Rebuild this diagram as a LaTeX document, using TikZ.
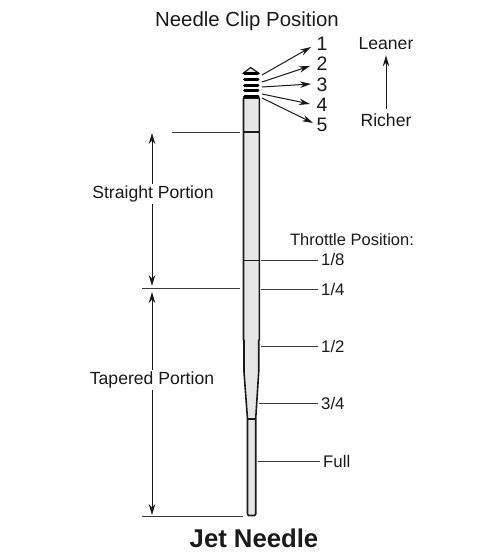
\documentclass[tikz,border=0pt]{standalone}
\usepackage{fontspec}
\setmainfont{Liberation Sans}
\definecolor{mneedle}{HTML}{E6E6E6}
\definecolor{mink}{HTML}{1A1A1A}
\usetikzlibrary{arrows.meta,calc}
\begin{document}
\begin{tikzpicture}[x=1pt,y=-1pt,font=\fontsize{17.6}{20}\selectfont,>={Stealth[length=11pt,width=6.5pt]},
lbl/.style={inner sep=0pt,text=mink,anchor=west},
num/.style={lbl,font=\fontsize{19.5}{22}\selectfont},
mid/.style={inner sep=1.5pt,text=mink},
body/.style={draw=mink,fill=mneedle,line width=1.6pt,line join=round},
flow/.style={->,line width=1pt,draw=mink},
dim/.style={<->,line width=1pt,draw=mink},
tick/.style={line width=1pt,draw=mink!85}]
\useasboundingbox (0,0) rectangle (499,559);

% labels
\node[mid,font=\fontsize{20.4}{22}\selectfont] (title) at (247,21.5) {Needle Clip Position};
\node[num] (c1) at (316.5,43.5) {1};
\node[num] (c2) at (316.5,63.5) {2};
\node[num] (c3) at (316.5,84.5) {3};
\node[num] (c4) at (316.5,104.5) {4};
\node[num] (c5) at (316.5,124.5) {5};
\node[mid] (lean) at (386,43.5) {Leaner};
\node[mid] (rich) at (386,120.5) {Richer};
\node[mid,font=\fontsize{16.5}{18}\selectfont] (thr) at (352,239.5) {Throttle Position:};
\node[lbl,font=\fontsize{16.8}{18}\selectfont] (t8) at (321,259.5) {1/8};
\node[lbl,font=\fontsize{16.8}{18}\selectfont] (t4) at (321,289.5) {1/4};
\node[lbl,font=\fontsize{16.8}{18}\selectfont] (t2) at (321,346) {1/2};
\node[lbl,font=\fontsize{16.8}{18}\selectfont] (t34) at (321,403) {3/4};
\node[lbl,font=\fontsize{16.8}{18}\selectfont] (tf) at (323,461.5) {Full};
\node[mid,font=\fontsize{25.7}{28}\selectfont\bfseries] (name) at (254,538) {Jet Needle};

% needle
\draw[body] (243.5,98) -- (243.5,340) -- (244,340) -- (244,372) -- (247.5,419) -- (247.5,514) -- (248.5,515.5) -- (254.5,515.5) -- (255.7,514) -- (255.7,419) -- (258.7,372) -- (258.7,340) -- (259.3,340) -- (259.3,98) -- cycle;
\draw[line width=1.6pt,draw=mink] (247.5,419) -- (255.7,419);
\draw[line width=1.6pt,draw=mink] (243.5,132) -- (259.3,132);
\draw[line width=1.6pt,draw=mink] (243.5,260.5) -- (259.3,260.5);
\draw[draw=mink,fill=mneedle,line width=1.2pt] (243.5,73) -- (250.7,67.5) -- (258.5,73) -- cycle;
\foreach \y in {74,79.5,85.5,91,97}{
\draw[line width=3pt,line cap=round,draw=black] (244.5,\y) -- (258,\y);
}

% clip arrows
\coordinate (a1) at (262,75);
\coordinate (a2) at (262,82);
\coordinate (a3) at (262,87);
\coordinate (a4) at (262,94);
\coordinate (a5) at (262,98);
\coordinate (e1) at (311,47);
\coordinate (e2) at (310,66);
\coordinate (e3) at (311,84);
\coordinate (e4) at (310,104);
\coordinate (e5) at (313,123);
\draw[flow] (a1)--(e1);
\draw[flow] (a2)--(e2);
\draw[flow] (a3)--(e3);
\draw[flow] (a4)--(e4);
\draw[flow] (a5)--(e5);
\draw[flow,shorten >=4pt,shorten <=3pt] (rich.north)--(lean.south);

% throttle ticks
\coordinate (n8) at (261,260.5);
\coordinate (n4) at (261,289);
\coordinate (n2) at (261,346);
\coordinate (n34) at (259,403);
\coordinate (nf) at (258,461);
\draw[tick,shorten >=3pt] (n8)--(n8-|t8.west);
\draw[tick,shorten >=3pt] (n4)--(n4-|t4.west);
\draw[tick,shorten >=3pt] (n2)--(n2-|t2.west);
\draw[tick,shorten >=3pt] (n34)--(n34-|t34.west);
\draw[tick,shorten >=3pt] (nf)--(nf-|tf.west);

% portions
\coordinate (d1) at (172,132);
\coordinate (d2) at (142,288);
\coordinate (d3) at (142,516);
\coordinate (b1) at (240,132);
\coordinate (b2) at (240,288);
\coordinate (b3) at (243,516);
\draw[tick] (d1)--(b1);
\draw[tick] (d2)--(b2);
\draw[tick] (d3)--(b3);
\coordinate (s1) at (152,133);
\coordinate (s2) at (152,286);
\coordinate (s3) at (152,292);
\coordinate (s4) at (152,515);
\draw[dim] (s1)--(s2);
\draw[dim] (s3)--(s4);
\node[mid,fill=white] (str) at (153,194) {Straight Portion};
\node[mid,fill=white] (tap) at (152,380) {Tapered Portion};
\end{tikzpicture}
\end{document}
